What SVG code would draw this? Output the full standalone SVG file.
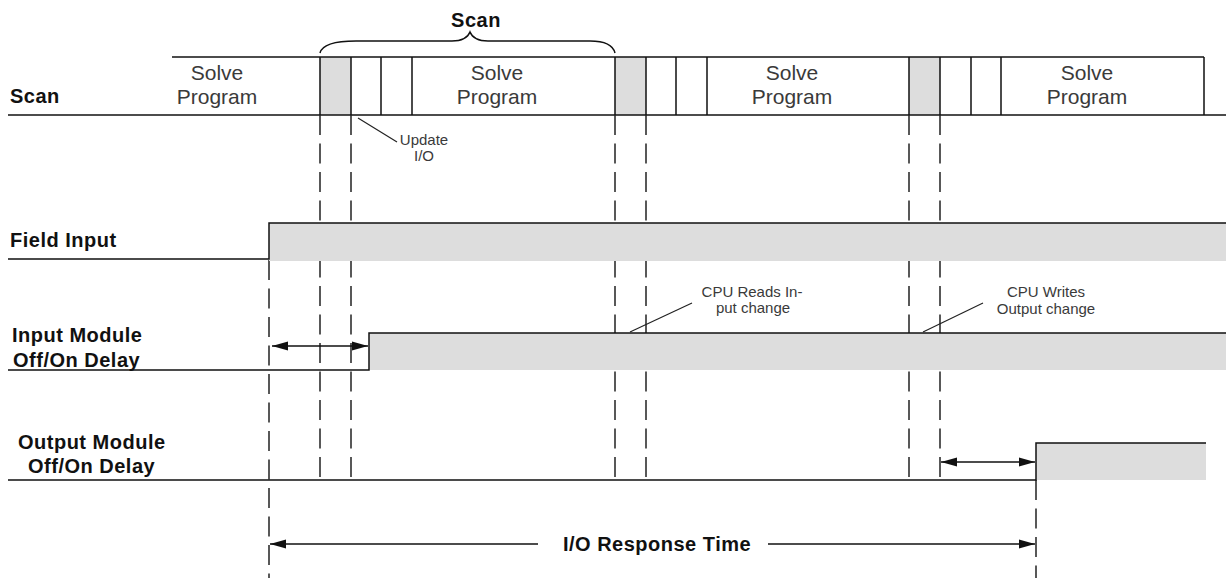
<svg xmlns="http://www.w3.org/2000/svg" width="1226" height="578" viewBox="0 0 1226 578">
<style>
.ln{stroke:#111;stroke-width:1.5;fill:none}
.thin{stroke:#222;stroke-width:1.2;fill:none}
.dash{stroke:#222;stroke-width:1.5;fill:none;stroke-dasharray:20 8.5}
.gray{fill:#dddddd;stroke:none}
.lbl{font-family:"Liberation Sans",Arial,sans-serif;font-weight:bold;font-size:20px;fill:#111;letter-spacing:0.5px}
.sp{font-family:"Liberation Sans",Arial,sans-serif;font-size:21px;fill:#3a3a3a;text-anchor:middle}
.sm{font-family:"Liberation Sans",Arial,sans-serif;font-size:15px;fill:#3a3a3a;text-anchor:middle}
</style>
<defs>
<marker id="ah" markerUnits="userSpaceOnUse" markerWidth="18" markerHeight="12" refX="16" refY="6" orient="auto-start-reverse">
<path d="M0,1.5 L16,6 L0,10.5 Z" fill="#111"/>
</marker>
</defs>
<rect width="1226" height="578" fill="#ffffff"/>

<g id="scan-row">
<rect class="gray" x="320" y="57" width="31" height="58"/>
<rect class="gray" x="615" y="57" width="31" height="58"/>
<rect class="gray" x="909" y="57" width="31" height="58"/>
<line class="ln" x1="172" y1="57" x2="1204" y2="57"/>
<line class="ln" x1="8" y1="115" x2="1226" y2="115"/>
<path class="ln" d="M320,57V115 M351,57V115 M381,57V115 M412,57V115 M615,57V115 M646,57V115 M676,57V115 M707,57V115 M909,57V115 M940,57V115 M971,57V115 M1001,57V115 M1204,57V115"/>
<text class="lbl" x="10" y="103">Scan</text>
<text class="sp" x="217" y="80">Solve</text>
<text class="sp" x="217" y="104">Program</text>
<text class="sp" x="497" y="80">Solve</text>
<text class="sp" x="497" y="104">Program</text>
<text class="sp" x="792" y="80">Solve</text>
<text class="sp" x="792" y="104">Program</text>
<text class="sp" x="1087" y="80">Solve</text>
<text class="sp" x="1087" y="104">Program</text>
</g>

<g id="scan-brace">
<path class="ln" d="M320,53 C322,45 333,41 356,41 L452,41 C463,41 468,37 470,32 C472,37 477,41 488,41 L590,41 C605,41 613,45 615,53"/>
<text class="lbl" x="476" y="27" text-anchor="middle">Scan</text>
</g>

<g id="guides">
<line class="dash" x1="320" y1="115" x2="320" y2="480"/>
<line class="dash" x1="351" y1="115" x2="351" y2="480"/>
<line class="dash" x1="615" y1="115" x2="615" y2="480"/>
<line class="dash" x1="646" y1="115" x2="646" y2="480"/>
<line class="dash" x1="909" y1="115" x2="909" y2="480"/>
<line class="dash" x1="940" y1="115" x2="940" y2="480"/>
<line class="dash" x1="269" y1="260" x2="269" y2="578"/>
<line class="dash" x1="1036" y1="480" x2="1036" y2="578"/>
</g>

<g id="field-input">
<rect class="gray" x="269" y="223" width="957" height="38"/>
<path class="ln" d="M8,259 H269 V223 H1226"/>
<text class="lbl" x="10" y="247">Field Input</text>
</g>

<g id="input-module">
<rect class="gray" x="369" y="333" width="857" height="37"/>
<path class="ln" d="M8,370 H369 V333 H1226"/>
<text class="lbl" x="12" y="342">Input Module</text>
<text class="lbl" x="13" y="367">Off/On Delay</text>
</g>

<g id="output-module">
<rect class="gray" x="1036" y="443" width="170" height="37"/>
<path class="ln" d="M8,480 H1036 V443 H1206"/>
<text class="lbl" x="18" y="449">Output Module</text>
<text class="lbl" x="28" y="473">Off/On Delay</text>
</g>

<g id="annotations">
<text class="sm" x="424" y="145">Update</text>
<text class="sm" x="424" y="161">I/O</text>
<text class="sm" x="752" y="297">CPU Reads In-</text>
<text class="sm" x="753" y="313">put change</text>
<text class="sm" x="1046" y="297">CPU Writes</text>
<text class="sm" x="1046" y="314">Output change</text>
<text class="lbl" x="657" y="551" text-anchor="middle" letter-spacing="0.3">I/O Response Time</text>
</g>

<g id="connectors">
<line class="thin" x1="358" y1="118" x2="397" y2="142"/>
<line class="thin" x1="630" y1="332" x2="692" y2="303"/>
<line class="thin" x1="923" y1="332" x2="983" y2="303"/>
<line class="ln" x1="272" y1="346" x2="368" y2="346" marker-start="url(#ah)" marker-end="url(#ah)"/>
<line class="ln" x1="941" y1="462" x2="1035" y2="462" marker-start="url(#ah)" marker-end="url(#ah)"/>
<line class="ln" x1="270" y1="544" x2="538" y2="544" marker-start="url(#ah)"/>
<line class="ln" x1="768" y1="544" x2="1035" y2="544" marker-end="url(#ah)"/>
</g>
</svg>
